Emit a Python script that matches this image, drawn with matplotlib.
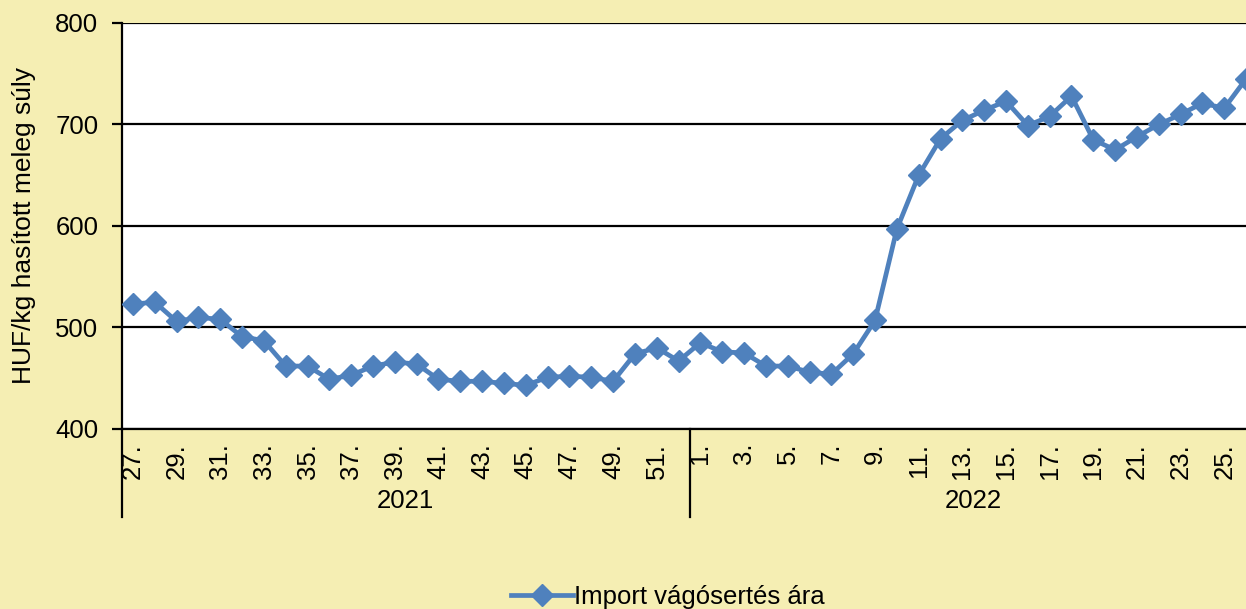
import matplotlib
matplotlib.use("Agg")
import matplotlib.pyplot as plt
import matplotlib.transforms as mtransforms

plt.rcParams['font.family'] = ['Liberation Sans', 'DejaVu Sans']

weeks_2021 = list(range(27, 53))
weeks_2022 = list(range(1, 27))
prices_2021 = [523, 525, 506, 510, 508, 491, 487, 462, 462, 449, 453, 462, 466, 464,
               449, 447, 447, 445, 443, 451, 452, 451, 447, 474, 480, 467]
prices_2022 = [485, 476, 475, 462, 462, 456, 454, 474, 507, 597, 650, 686, 704, 714,
               723, 699, 708, 728, 685, 675, 688, 700, 710, 721, 716, 745]
years = ["2021", "2022"]
series_name = "Import vágósertés ára"
y_label = "HUF/kg hasított meleg súly"

prices = prices_2021 + prices_2022
week_labels = [f"{w}." for w in weeks_2021 + weeks_2022]
n = len(prices)
xs = list(range(n))

bg = '#F5EEB3'
blue = '#4F81BD'
fs = 18.5
W, H = 1246, 609
fig = plt.figure(figsize=(W / 100, H / 100), dpi=100, facecolor=bg)
ax = fig.add_axes([122 / W, 1 - 429 / H, (1257 - 122) / W, (429 - 23) / H])
ax.set_facecolor('white')

ax.plot(xs, prices, color=blue, lw=3.4, marker='D', ms=11, mec=blue, mfc=blue,
        label=series_name, zorder=3)

ax.set_xlim(-0.5, n - 0.5)
ax.set_ylim(400, 800)
ax.set_yticks([400, 500, 600, 700, 800])
ax.yaxis.grid(True, color='black', lw=1.6)
ax.set_axisbelow(True)
for s in ['top', 'right']:
    ax.spines[s].set_visible(False)
ax.spines['left'].set_linewidth(1.6)
ax.spines['bottom'].set_linewidth(1.6)
ax.tick_params(axis='y', length=7, width=1.6, pad=10, labelsize=fs)

tick_pos = xs[::2]
ax.set_xticks(tick_pos)
ax.set_xticklabels([week_labels[i] for i in tick_pos], rotation=90, fontsize=fs)
ax.tick_params(axis='x', length=0, pad=10)
for lbl in ax.get_xticklabels():
    lbl.set_verticalalignment('top')

trans = mtransforms.blended_transform_factory(ax.transData, ax.transAxes)
depth = -(517 - 429) / (429 - 23)
n21 = len(prices_2021)
for xv in [-0.5, n21 - 0.5]:
    ax.plot([xv, xv], [0, depth], transform=trans, color='black', lw=1.6, clip_on=False)
ylab = -(501 - 429) / (429 - 23)
ax.text((n21 - 1) / 2, ylab, years[0], transform=trans, ha='center', va='center', fontsize=fs)
ax.text(n21 + (len(prices_2022) - 1) / 2, ylab, years[1], transform=trans,
        ha='center', va='center', fontsize=fs)

fig.text(24 / W, 1 - 226 / H, y_label, rotation=90, ha='center', va='center', fontsize=19)

fig.legend(loc='center', bbox_to_anchor=(668 / W, 1 - 597 / H), frameon=False,
           fontsize=fs, handlelength=2.4, handletextpad=0.05)

fig.savefig('out.png', dpi=100, facecolor=bg)
